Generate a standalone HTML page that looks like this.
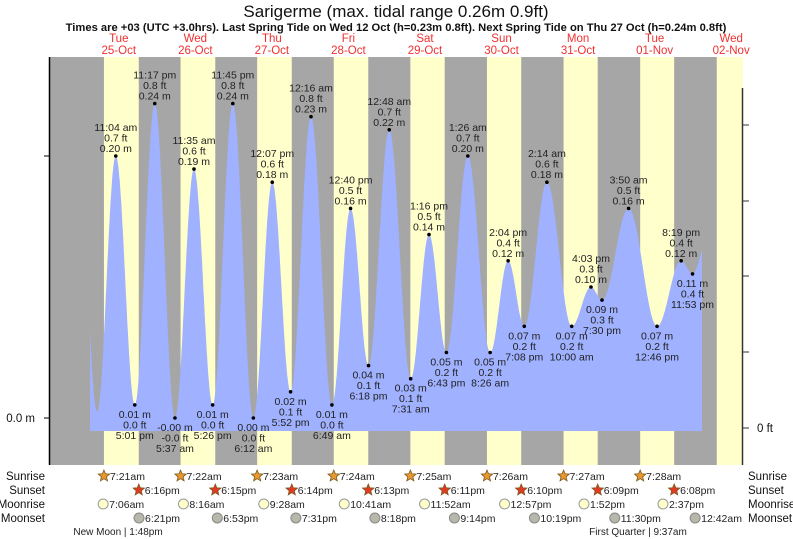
<!DOCTYPE html>
<html><head><meta charset="utf-8"><style>
body{margin:0;background:#fff;}
svg{display:block;font-family:"Liberation Sans",Arial,sans-serif;}
</style></head><body>
<svg id="chart" width="793" height="539" viewBox="0 0 793 539" xmlns="http://www.w3.org/2000/svg">
<text x="396" y="17" font-size="17" text-anchor="middle" fill="#111">Sarigerme (max. tidal range 0.26m 0.9ft)</text>
<text x="396" y="31" font-size="11.2" font-weight="bold" text-anchor="middle" fill="#111">Times are +03 (UTC +3.0hrs). Last Spring Tide on Wed 12 Oct (h=0.23m 0.8ft). Next Spring Tide on Thu 27 Oct (h=0.24m 0.8ft)</text>
<g id="bands"></g>
<g id="tide"></g>
<g id="axes"></g>
<g id="labels"></g>
<g id="days"></g>
<g id="astro"></g>
</svg>
<script>
// ---- data ----
const dayNames = ["Tue","Wed","Thu","Fri","Sat","Sun","Mon","Tue","Wed"];
const dayDates = ["25-Oct","26-Oct","27-Oct","28-Oct","29-Oct","30-Oct","31-Oct","01-Nov","02-Nov"];
// hours since 25-Oct 00:00
const tideHours = [11.067,17.017,23.283,29.617,35.583,41.433,47.75,54.2,60.117,65.867,72.267,78.817,84.667,90.3,96.8,103.517,109.267,114.717,121.433,128.433,134.067,139.133,146.233,154,160.05,163.5,171.833,180.767,188.317,191.883];
const tideHeights = [0.20,0.01,0.24,-0.00,0.19,0.01,0.24,0.00,0.18,0.02,0.23,0.01,0.16,0.04,0.22,0.03,0.14,0.05,0.20,0.05,0.12,0.07,0.18,0.07,0.10,0.09,0.16,0.07,0.12,0.11];
const tideTypes = ["H","L","H","L","H","L","H","L","H","L","H","L","H","L","H","L","H","L","H","L","H","L","H","L","H","L","H","L","H","L"];
const tideTimes = ["11:04 am","5:01 pm","11:17 pm","5:37 am","11:35 am","5:26 pm","11:45 pm","6:12 am","12:07 pm","5:52 pm","12:16 am","6:49 am","12:40 pm","6:18 pm","12:48 am","7:31 am","1:16 pm","6:43 pm","1:26 am","8:26 am","2:04 pm","7:08 pm","2:14 am","10:00 am","4:03 pm","7:30 pm","3:50 am","12:46 pm","8:19 pm","11:53 pm"];
const tideMLabels = ["0.20","0.01","0.24","-0.00","0.19","0.01","0.24","0.00","0.18","0.02","0.23","0.01","0.16","0.04","0.22","0.03","0.14","0.05","0.20","0.05","0.12","0.07","0.18","0.07","0.10","0.09","0.16","0.07","0.12","0.11"];
const tideFtLabels = ["0.7","0.0","0.8","-0.0","0.6","0.0","0.8","0.0","0.6","0.1","0.8","0.0","0.5","0.1","0.7","0.1","0.5","0.2","0.7","0.2","0.4","0.2","0.6","0.2","0.3","0.3","0.5","0.2","0.4","0.4"];
// unlabeled extrema outside the labelled range (estimated)
const edgeHours = [-1.3,5.2,197];
const edgeHeights = [0.24,0.005,0.14];
const sunriseHours = [7.35,7.367,7.383,7.4,7.417,7.433,7.45,7.467,7.483];
const sunsetHours = [18.267,18.25,18.233,18.217,18.183,18.167,18.15,18.133,18.12];
const sunriseLabels = ["7:21am","7:22am","7:23am","7:24am","7:25am","7:26am","7:27am","7:28am"];
const sunsetLabels = ["6:16pm","6:15pm","6:14pm","6:13pm","6:11pm","6:10pm","6:09pm","6:08pm"];
const moonriseHours = [7.1,8.267,9.467,10.683,11.867,12.95,13.867,14.617];
const moonriseLabels = ["7:06am","8:16am","9:28am","10:41am","11:52am","12:57pm","1:52pm","2:37pm"];
const moonsetHours = [18.35,18.883,19.517,20.3,21.233,22.317,23.5,24.7];
const moonsetLabels = ["6:21pm","6:53pm","7:31pm","8:18pm","9:14pm","10:19pm","11:30pm","12:42am"];

// ---- scales ----
const X0 = 80.5, PXH = 76.55/24;
const xOf = h => X0 + h*PXH;
const Y0 = 418, PXM = 1310;
const yOf = m => Y0 - m*PXM;
const NS = "http://www.w3.org/2000/svg";
function mk(tag, attrs, parent, txt){
  const e = document.createElementNS(NS, tag);
  for (const k in attrs) e.setAttribute(k, attrs[k]);
  if (txt !== undefined) e.textContent = txt;
  parent.appendChild(e); return e;
}
const PL = 50, PR = 743, PT = 57, PB = 465;

// ---- day/night bands ----
const bands = document.getElementById('bands');
let night = mk('rect',{x:PL,y:PT,width:PR-PL,height:PB-PT,fill:'#a6a6a6'},bands);


for (let d=0; d<9; d++){
  const x1 = Math.max(PL, xOf(d*24+sunriseHours[d]));
  const x2 = Math.min(PR, xOf(d*24+sunsetHours[d]));
  if (x2<=x1) continue;
  const r = mk('rect',{x:x1,y:PT,width:x2-x1,height:PB-PT,fill:'#ffffcc'},bands);
  
  
}

// ---- tide curve ----
const allH = [edgeHours[0],edgeHours[1]].concat(tideHours,[edgeHours[2]]);
const allM = [edgeHeights[0],edgeHeights[1]].concat(tideHeights,[edgeHeights[2]]);
function level(h){
  for (let i=0;i<allH.length-1;i++){
    if (h>=allH[i] && h<=allH[i+1]){
      const t=(h-allH[i])/(allH[i+1]-allH[i]);
      return allM[i]+(allM[i+1]-allM[i])*(1-Math.cos(Math.PI*t))/2;
    }
  }
  return allM[allM.length-1];
}
const hStart = (90-X0)/PXH, hEnd = (702-X0)/PXH, yBase = 431;
let d = `M${xOf(hStart).toFixed(1)},${yBase}`;
for (let h=hStart; h<=hEnd; h+=0.1) d += ` L${xOf(h).toFixed(1)},${yOf(level(h)).toFixed(1)}`;
d += ` L${xOf(hEnd).toFixed(1)},${yOf(level(hEnd)).toFixed(1)} L${xOf(hEnd).toFixed(1)},${yBase} Z`;
const tideG = document.getElementById('tide');
const area = mk('path',{d:d,fill:'#9fb1ff'},tideG);



// ---- axes ----
const ax = document.getElementById('axes');
let la = mk('line',{x1:49.5,y1:PT,x2:49.5,y2:PB,stroke:'#000','stroke-width':1.5},ax);


[0,0.2].forEach(v=>{
  const t = mk('line',{x1:44,y1:yOf(v),x2:49,y2:yOf(v),stroke:'#000'},ax);
  
  
});
let lt = mk('text',{x:35,y:Y0+4,'font-size':11.5,'text-anchor':'end',fill:'#111'},ax,'0.0 m');


let ra = mk('line',{x1:742.5,y1:88,x2:742.5,y2:PB,stroke:'#333','stroke-width':1.5},ax);


[125,201,276,352,428].forEach(y=>{
  const t = mk('line',{x1:743,y1:y,x2:749,y2:y,stroke:'#333'},ax);
  
  
});
let rt = mk('text',{x:757,y:432,'font-size':11.5,fill:'#111'},ax,'0 ft');



// ---- tide labels ----
const lab = document.getElementById('labels');
tideHours.forEach((h,i)=>{
  const x = xOf(h), y = yOf(tideHeights[i]);
  const dot = mk('circle',{cx:x,cy:y,r:1.8,fill:'#000'},lab);
  
  
  const g = mk('g',{'font-size':10.5,'text-anchor':'middle',fill:'#222'},lab);
  
  
  const lines = tideTypes[i]==='H'
    ? [[tideTimes[i],-25],[tideFtLabels[i]+' ft',-14.5],[tideMLabels[i]+' m',-4]]
    : [[tideMLabels[i]+' m',13],[tideFtLabels[i]+' ft',23.5],[tideTimes[i],34]];
  lines.forEach(l=>mk('text',{x:x,y:y+l[1]},g,l[0]));
});

// ---- day headers ----
const days = document.getElementById('days');
dayNames.forEach((n,i)=>{
  const x = xOf(i*24+12);
  const g = mk('g',{'font-size':11.5,'text-anchor':'middle',fill:'#f03030'},days);
  
  
  mk('text',{x:x,y:42},g,n);
  mk('text',{x:x,y:54},g,dayDates[i]);
});

// ---- astro rows ----
const as = document.getElementById('astro');
const rowY = [476,490,504,518];
['Sunrise','Sunset','Moonrise','Moonset'].forEach((n,i)=>{
  const a = mk('text',{x:45,y:rowY[i]+4,'font-size':11.5,'text-anchor':'end',fill:'#111'},as,n);
  
  
  const b = mk('text',{x:748,y:rowY[i]+4,'font-size':11.5,fill:'#111'},as,n);
  
  
});
function star(cx,cy,r,fill){
  let p='';
  for(let k=0;k<10;k++){
    const rr = k%2?r*0.45:r, a=-Math.PI/2+k*Math.PI/5;
    p += (k?'L':'M')+(cx+rr*Math.cos(a)).toFixed(1)+','+(cy+rr*Math.sin(a)).toFixed(1);
  }
  return mk('path',{d:p+'Z',fill:fill,stroke:'#7a5a20','stroke-width':0.8},as);
}
function iconText(x,y,t){
  const e = mk('text',{x:x+6,y:y+4,'font-size':10.5,fill:'#222'},as,t);
  
  
}
sunriseLabels.forEach((t,i)=>{
  const x = xOf(i*24+sunriseHours[i]);
  const s = star(x,rowY[0],6,'#e8982e');
  
  
  iconText(x,rowY[0],t);
});
sunsetLabels.forEach((t,i)=>{
  const x = xOf(i*24+sunsetHours[i]);
  const s = star(x,rowY[1],6,'#e23a22');
  
  
  iconText(x,rowY[1],t);
});
moonriseLabels.forEach((t,i)=>{
  const x = xOf(i*24+moonriseHours[i]);
  const c = mk('circle',{cx:x,cy:rowY[2],r:5,fill:'#ffffcc',stroke:'#999'},as);
  
  
  iconText(x,rowY[2],t);
});
moonsetLabels.forEach((t,i)=>{
  const x = xOf(i*24+moonsetHours[i]);
  const c = mk('circle',{cx:x,cy:rowY[3],r:5,fill:'#b8b8aa',stroke:'#888'},as);
  
  
  iconText(x,rowY[3],t);
});
const p1 = mk('text',{x:118,y:535,'font-size':10,'text-anchor':'middle',fill:'#222'},as,'New Moon | 1:48pm');


const p2 = mk('text',{x:638,y:535,'font-size':10,'text-anchor':'middle',fill:'#222'},as,'First Quarter | 9:37am');


</script>
</body></html>
